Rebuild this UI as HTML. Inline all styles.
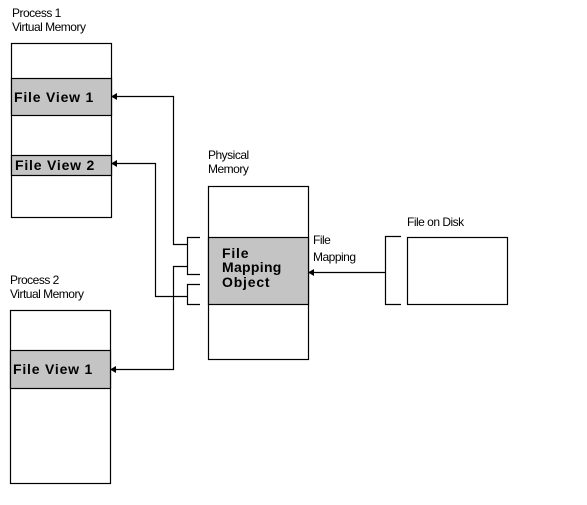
<!DOCTYPE html>
<html><head><style>
html,body{margin:0;padding:0;background:#fff;width:587px;height:505px;overflow:hidden}
svg text{font-family:"Liberation Sans",sans-serif;}
</style></head><body>
<svg width="587" height="505" viewBox="0 0 587 505" xmlns="http://www.w3.org/2000/svg">
<g fill="#000" font-size="12" letter-spacing="-0.5">
<text x="12" y="17">Process 1</text><text x="12" y="31">Virtual Memory</text>
<text x="10" y="284">Process 2</text><text x="10" y="298">Virtual Memory</text>
<text x="208" y="159">Physical</text><text x="208" y="173">Memory</text>
<text x="313" y="244">File</text><text x="313" y="261">Mapping</text>
<text x="407" y="226">File on Disk</text>
</g>
<g stroke="#000" stroke-width="1.2" fill="none">
<rect x="11.5" y="43.5" width="100" height="174" fill="#fff"/>
<rect x="11.5" y="78.5" width="100" height="37" fill="#c4c4c4"/>
<rect x="11.5" y="155.5" width="100" height="20" fill="#c4c4c4"/>
<rect x="10.5" y="310.5" width="100" height="173" fill="#fff"/>
<rect x="10.5" y="350.5" width="100" height="38" fill="#c4c4c4"/>
<rect x="208.5" y="186.5" width="100" height="173" fill="#fff"/>
<rect x="208.5" y="237.5" width="100" height="67" fill="#c4c4c4"/>
<rect x="407.5" y="237.5" width="100" height="67" fill="#fff"/>
<polyline points="401,236.5 385.5,236.5 385.5,304.5 401,304.5"/>
<polyline points="200,237.5 187.5,237.5 187.5,274.5 200,274.5"/>
<polyline points="200,284.5 187.5,284.5 187.5,304.5 200,304.5"/>
<polyline points="115,96.5 173.5,96.5 173.5,244.5 187.5,244.5"/>
<polyline points="115,163.5 155.5,163.5 155.5,296.5 187.5,296.5"/>
<polyline points="187.5,266.5 173.5,266.5 173.5,369.5 114,369.5"/>
<line x1="385.5" y1="272.5" x2="312" y2="272.5"/>
</g>
<g fill="#000">
<polygon points="111,96.5 117,93 117,100"/>
<polygon points="111,163.5 117,160 117,167"/>
<polygon points="110,369.5 116,366 116,373"/>
<polygon points="308,272.5 314,269 314,276"/>
</g>
<g font-weight="bold" font-size="14" fill="#000" letter-spacing="0.8">
<text x="14" y="102">File View 1</text>
<text x="15" y="170">File View 2</text>
<text x="13" y="374">File View 1</text>
<text x="222" y="258">File</text>
<text x="222" y="272" letter-spacing="0.3">Mapping</text>
<text x="222" y="287">Object</text>
</g>
</svg>
</body></html>
